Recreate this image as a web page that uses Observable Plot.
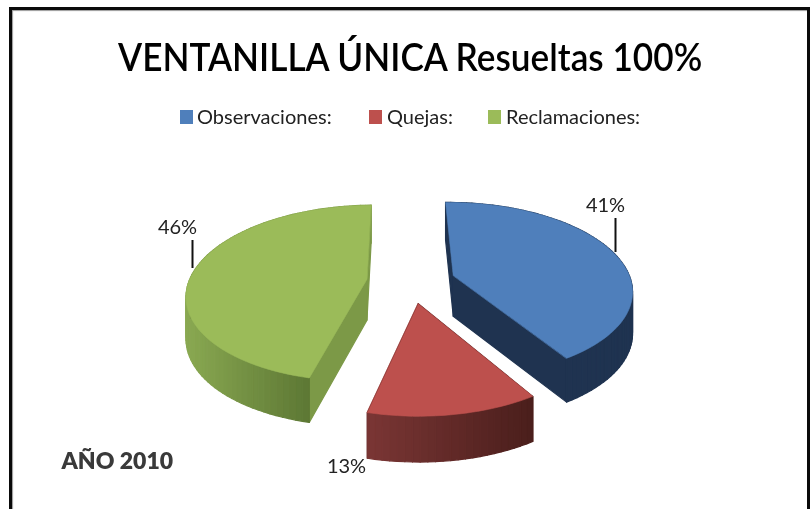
<!DOCTYPE html>
<html lang="es">
<head>
<meta charset="utf-8">
<script src="https://cdn.jsdelivr.net/npm/d3@7"></script>
<script src="https://cdn.jsdelivr.net/npm/@observablehq/plot@0.6"></script>
<style>
html,body{margin:0;padding:0;background:#fff;overflow:hidden}
#page{position:relative;width:812px;height:509px;font-family:Lato,sans-serif;color:#111;filter:blur(0.45px)}
#frame{position:absolute;left:9px;top:7px;width:795px;height:502px;border:3px solid #0a0a0a;border-bottom:none;box-shadow:inset 1px 1px 1px #999}
#head{position:relative;height:140px}
#title{position:absolute;left:118px;top:31px;font-size:38px;font-weight:600;line-height:50px;white-space:nowrap;color:#000;transform:scaleX(0.926);transform-origin:0 50%}
.sw{position:absolute;top:110px;width:13px;height:14px}
.lg{position:absolute;top:103px;font-size:20px;line-height:26px;white-space:nowrap;color:#222}
svg{display:block}
</style>
</head>
<body>
<div id="page">
<div id="frame"></div>
<div id="head"><div id="title"></div></div>
<div id="chart"></div>
</div>
<script>
const titleText = "VENTANILLA ÚNICA Resueltas 100%";
const categories = ["Observaciones:", "Quejas:", "Reclamaciones:"];
const percents = [41.4, 12.6, 46];
const percentLabels = ["41%", "13%", "46%"];
const topColors = ["#4f7fbb", "#bd504d", "#9bbb59"];
const wallLeft = ["#1f3350", "#7b3635", "#8aa952"];
const wallRight = ["#1f3350", "#4b1f1c", "#5e7935"];
const radialColors = ["#1f3350", "#5a2523", "#7c9947"];
const yearNote = "AÑO 2010";

// legend layout
const swatchX = [180, 369, 488], legendX = [197, 387, 506];
const head = document.getElementById("head");
document.getElementById("title").textContent = titleText;
categories.forEach((c, i) => {
  const s = document.createElement("div"); s.className = "sw"; s.style.left = swatchX[i] + "px"; s.style.background = topColors[i]; head.appendChild(s);
  const t = document.createElement("div"); t.className = "lg"; t.style.left = legendX[i] + "px"; t.textContent = c; head.appendChild(t);
});

// perspective view of the exploded pie
const view = {xv: 416, a: -5.5, y0: 281, R: 178, Q: 86.5, k: 0.16, depth: 41, explode: 0.25, turn: -1 * Math.PI / 180};
const project = (u, v, down = 0) => {
  const w = 1 + view.k * v;
  return {x: view.xv + (view.R * u + view.a) / w, y: view.y0 - view.Q * v / w + down / Math.sqrt(w)};
};
const arcs = d3.pie().sort(null).startAngle(view.turn).endAngle(2 * Math.PI + view.turn)(percents);
const faces = [], walls = [];
arcs.forEach((arc, i) => {
  const mid = (arc.startAngle + arc.endAngle) / 2;
  const cu = view.explode * Math.sin(mid), cv = view.explode * Math.cos(mid);
  const n = Math.ceil((arc.endAngle - arc.startAngle) * 90 / Math.PI);
  const rim = d3.range(n + 1).map(j => {
    const t = arc.startAngle + (arc.endAngle - arc.startAngle) * j / n;
    return [cu + Math.sin(t), cv + Math.cos(t)];
  });
  const poly = [[cu, cv], ...rim];
  poly.forEach(([u, v]) => faces.push({id: i, color: topColors[i], ...project(u, v)}));
  const quad = (id, color, a, b) => [
    project(a[0], a[1]), project(b[0], b[1]),
    project(b[0], b[1], view.depth), project(a[0], a[1], view.depth)
  ].forEach(p => walls.push({id, color, ...p}));
  quad(`r${i}a`, radialColors[i], [cu, cv], rim[0]);
  quad(`r${i}b`, radialColors[i], [cu, cv], rim[n]);
  const centerY = project(cu, cv).y;
  const xs = rim.filter(([u, v]) => project(u, v).y > centerY - 1).map(([u, v]) => project(u, v).x);
  const x0 = d3.min(xs), x1 = d3.max(xs);
  const shade = d3.interpolateRgb(wallLeft[i], wallRight[i]);
  for (let j = 0; j < n; j++) {
    const p = project(...rim[j]);
    const t = Math.max(0, Math.min(1, (p.x - x0) / (x1 - x0)));
    quad(`a${i}-${j}`, p.y < centerY - 1 ? radialColors[i] : shade(t), rim[j], rim[j + 1]);
  }
});

const labels = [
  {text: percentLabels[0], x: 605, y: 205},
  {text: percentLabels[1], x: 346, y: 466},
  {text: percentLabels[2], x: 177, y: 227}
];
const leaders = [
  {x: 615, y1: 218, y2: 252},
  {x: 192, y1: 240, y2: 268}
];
const note = [{text: yearNote, x: 61, y: 461}];

const plot = Plot.plot({
  width: 812, height: 369,
  marginTop: 0, marginRight: 0, marginBottom: 0, marginLeft: 0,
  x: {domain: [0, 812], range: [0, 812], axis: null},
  y: {domain: [140, 509], range: [0, 369], axis: null},
  color: {type: "identity"},
  style: {background: "transparent"},
  marks: [
    Plot.line(walls, {x: "x", y: "y", z: "id", fill: "color", stroke: "color", strokeWidth: 1.2, curve: "linear-closed"}),
    Plot.line(faces, {x: "x", y: "y", z: "id", fill: "color", stroke: "color", strokeWidth: 0.6, curve: "linear-closed"}),
    Plot.ruleX(leaders, {x: "x", y1: "y1", y2: "y2", stroke: "#111", strokeWidth: 2}),
    Plot.text(labels, {x: "x", y: "y", text: "text", fontSize: 20, fontFamily: "Lato", fill: "#222"}),
    Plot.text(note, {x: "x", y: "y", text: "text", textAnchor: "start", fontSize: 23, fontWeight: 800, fontFamily: "Lato", fill: "#3a3a3a"})
  ]
});
document.getElementById("chart").appendChild(plot);
</script>
</body>
</html>
